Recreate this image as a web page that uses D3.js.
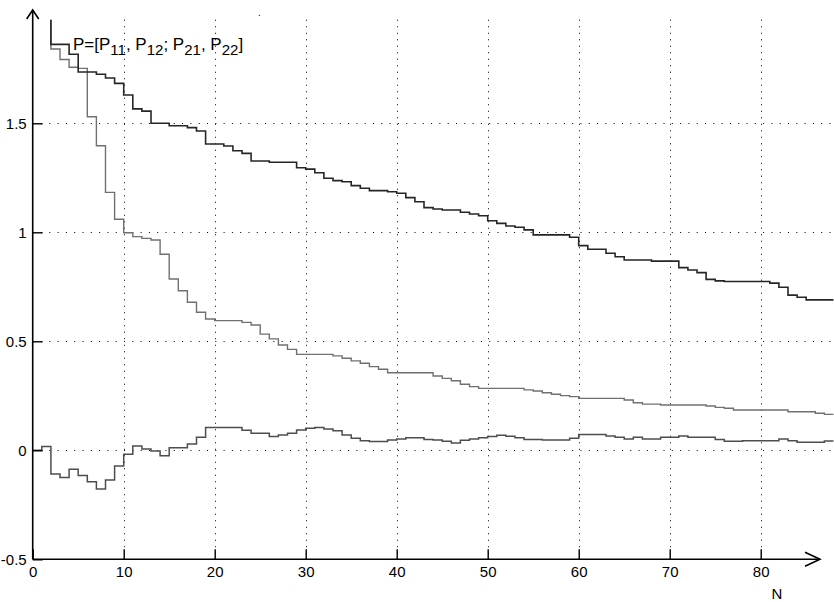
<!DOCTYPE html>
<html>
<head>
<meta charset="utf-8">
<script src="https://cdn.jsdelivr.net/npm/d3@7"></script>
<style>
  html, body { margin: 0; padding: 0; background: #fff; }
  svg { display: block; }
  text { font-family: "Liberation Sans", Arial, sans-serif; fill: #000; }
</style>
</head>
<body>
<svg id="chart" width="834" height="602"></svg>
<script>
// ---- data ----
const N = d3.range(0, 89); // sample index 0..88

const P11 = [2.0, 2.0, 1.862, 1.862, 1.817, 1.735, 1.735, 1.725, 1.708, 1.683,
  1.630, 1.566, 1.556, 1.500, 1.500, 1.489, 1.489, 1.480, 1.465, 1.405,
  1.405, 1.396, 1.374, 1.362, 1.327, 1.327, 1.321, 1.321, 1.321, 1.296,
  1.290, 1.273, 1.248, 1.237, 1.232, 1.214, 1.202, 1.191, 1.191, 1.186,
  1.179, 1.159, 1.140, 1.113, 1.107, 1.102, 1.102, 1.092, 1.084, 1.076,
  1.053, 1.041, 1.029, 1.023, 1.011, 0.988, 0.988, 0.988, 0.988, 0.977,
  0.939, 0.922, 0.922, 0.904, 0.888, 0.873, 0.873, 0.873, 0.868, 0.868,
  0.868, 0.838, 0.827, 0.815, 0.784, 0.777, 0.774, 0.774, 0.774, 0.774,
  0.774, 0.767, 0.748, 0.712, 0.702, 0.690, 0.690, 0.690, 0.690];

const P22 = [2.0, 2.0, 1.841, 1.793, 1.757, 1.752, 1.530, 1.397, 1.183, 1.060,
  0.998, 0.980, 0.972, 0.965, 0.899, 0.786, 0.732, 0.679, 0.633, 0.602,
  0.595, 0.595, 0.595, 0.587, 0.575, 0.533, 0.511, 0.483, 0.463, 0.440,
  0.440, 0.440, 0.440, 0.433, 0.422, 0.410, 0.399, 0.384, 0.372, 0.356,
  0.356, 0.356, 0.356, 0.356, 0.341, 0.330, 0.319, 0.303, 0.292, 0.284,
  0.284, 0.284, 0.284, 0.284, 0.277, 0.272, 0.264, 0.257, 0.251, 0.246,
  0.238, 0.238, 0.238, 0.238, 0.238, 0.231, 0.218, 0.212, 0.212, 0.208,
  0.208, 0.208, 0.208, 0.208, 0.203, 0.197, 0.193, 0.185, 0.185, 0.185,
  0.185, 0.185, 0.185, 0.177, 0.177, 0.177, 0.170, 0.165, 0.165];

const P12 = [0.000, 0.017, -0.109, -0.125, -0.087, -0.116, -0.144, -0.178, -0.136, -0.072,
  -0.018, 0.020, 0.006, -0.003, -0.025, 0.012, 0.012, 0.029, 0.060, 0.105,
  0.105, 0.105, 0.105, 0.092, 0.078, 0.078, 0.063, 0.070, 0.078, 0.093,
  0.101, 0.105, 0.098, 0.090, 0.070, 0.055, 0.044, 0.040, 0.040, 0.047,
  0.052, 0.057, 0.057, 0.050, 0.047, 0.041, 0.034, 0.046, 0.052, 0.057,
  0.063, 0.069, 0.064, 0.057, 0.050, 0.050, 0.047, 0.047, 0.047, 0.055,
  0.073, 0.073, 0.073, 0.066, 0.060, 0.052, 0.060, 0.052, 0.052, 0.060,
  0.060, 0.066, 0.060, 0.060, 0.060, 0.050, 0.041, 0.041, 0.044, 0.044,
  0.044, 0.044, 0.052, 0.044, 0.037, 0.037, 0.037, 0.043, 0.043];

const xTicks = [0, 10, 20, 30, 40, 50, 60, 70, 80];
const yTicks = [-0.5, 0, 0.5, 1, 1.5];
const yTickLabels = ["-0.5", "0", "0.5", "1", "1.5"];
const xLabel = "N";

// ---- scales ----
const svg = d3.select("#chart");
const x = d3.scaleLinear().domain([0, 88]).range([32.7, 833.5]);
const y = d3.scaleLinear().domain([-0.5, 1.975]).range([559.3, 19.75]);

const pL = x(0), pB = y(-0.5), pT = y(1.975), pR = 834;

// ---- grid ----
const grid = svg.append("g").attr("class", "grid");
grid.selectAll("line.v").data(xTicks.filter(d => d > 0)).join("line")
  .attr("x1", d => Math.round(x(d)) + 0.5).attr("x2", d => Math.round(x(d)) + 0.5)
  .attr("y1", pT).attr("y2", pB)
  .attr("stroke", "#000").attr("stroke-width", 1).attr("stroke-dasharray", "1 5.5");
grid.selectAll("line.h").data(yTicks.filter(d => d > -0.5)).join("line")
  .attr("x1", pL).attr("x2", pR)
  .attr("y1", d => Math.round(y(d)) + 0.5).attr("y2", d => Math.round(y(d)) + 0.5)
  .attr("stroke", "#000").attr("stroke-width", 1).attr("stroke-dasharray", "1 7.3");

// ---- data lines ----
svg.append("clipPath").attr("id", "clip").append("rect")
  .attr("x", pL).attr("y", pT).attr("width", pR - pL).attr("height", pB - pT);

const line = vals => d3.line().curve(d3.curveStepAfter)
  .x((d, i) => x(N[i])).y(d => y(d))(vals);

const series = [
  { vals: P12, color: "#4d4d4d", w: 1.5 },
  { vals: P22, color: "#707070", w: 1.4 },
  { vals: P11, color: "#262626", w: 1.6 }
];
svg.append("g").attr("clip-path", "url(#clip)")
  .selectAll("path").data(series).join("path")
  .attr("d", d => line(d.vals))
  .attr("fill", "none").attr("stroke", d => d.color).attr("stroke-width", d => d.w);

// ---- axes ----
const xAxis = d3.axisBottom(x).tickValues(xTicks).tickFormat(d3.format("d"))
  .tickSizeInner(-10).tickSizeOuter(0).tickPadding(7);
const gx = svg.append("g").attr("transform", `translate(0,${pB})`).call(xAxis);
gx.select(".domain").remove();
gx.selectAll(".tick line").attr("stroke", "#000").attr("stroke-width", 1.4);
gx.selectAll(".tick text").attr("font-size", 15).attr("font-family", "Liberation Sans, Arial, sans-serif");

const yAxis = d3.axisLeft(y).tickValues(yTicks).tickFormat((d, i) => yTickLabels[i])
  .tickSizeInner(-10).tickSizeOuter(0).tickPadding(6);
const gy = svg.append("g").attr("transform", `translate(${pL},0)`).call(yAxis);
gy.select(".domain").remove();
gy.selectAll(".tick line").attr("stroke", "#000").attr("stroke-width", 1.4);
gy.selectAll(".tick text").attr("font-size", 15).attr("font-family", "Liberation Sans, Arial, sans-serif");

// axis lines with open arrow heads
const ax = svg.append("g").attr("fill", "none").attr("stroke", "#000").attr("stroke-width", 1.6);
const xEnd = 820, yEnd = 10;
ax.append("path").attr("d", `M${pL},${pB}H${xEnd}`);
ax.append("path").attr("d", `M${xEnd - 15},${pB - 7}L${xEnd},${pB}L${xEnd - 15},${pB + 7}`);
ax.append("path").attr("d", `M${pL},${pB}V${yEnd}`);
ax.append("path").attr("d", `M${pL - 6},${yEnd + 9}L${pL},${yEnd}L${pL + 6},${yEnd + 9}`);

// x label
svg.append("text").attr("x", 777).attr("y", 599).attr("text-anchor", "middle")
  .attr("font-size", 15).text(xLabel);

// legend-like annotation
const t = svg.append("text").attr("x", 73).attr("y", 50).attr("font-size", 17);
const parts = [["P=[P", 0], ["11", 1], [", P", 0], ["12", 1], ["; P", 0], ["21", 1], [", P", 0], ["22", 1], ["]", 0]];
parts.forEach(([s, sub], i) => {
  const prev = i > 0 ? parts[i - 1][1] : 0;
  t.append("tspan").attr("font-size", sub ? 15 : 17)
    .attr("dy", sub && !prev ? 5 : (!sub && prev ? -5 : 0)).text(s);
});

// small stray dot near the top
svg.append("text").attr("x", 258).attr("y", 16).attr("font-size", 10).text(".");
</script>
</body>
</html>
